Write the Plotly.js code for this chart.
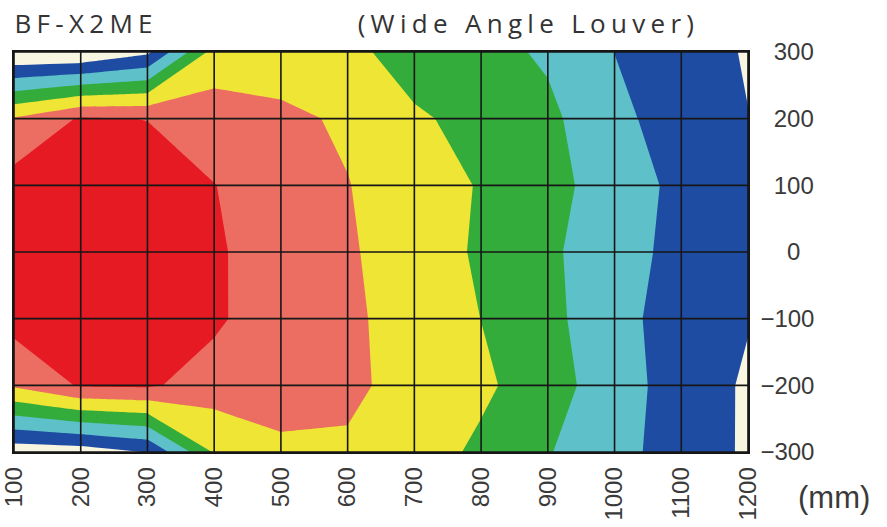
<!DOCTYPE html>
<html>
<head>
<meta charset="utf-8">
<script src="https://cdn.plot.ly/plotly-3.0.1.min.js"></script>
<style>
  html, body { margin: 0; padding: 0; background: #ffffff; }
  #chart { width: 887px; height: 527px; }
  g.annotation[data-index="0"] text, g.annotation[data-index="1"] text { letter-spacing: 5.3px; }
</style>
</head>
<body>
<div id="chart"></div>
<script>
// distance from unit (mm)
const xDist = [100, 200, 300, 400, 500, 600, 700, 800, 900, 1000, 1100, 1200];
// lateral position (mm)
const yPos = [-300, -200, -100, 0, 100, 200, 300];

// band index values (rows follow yPos)
const rowM300 = [0.4, 0.5, 1.05, 4.1, 4.85, 4.9, 4.5, 3.8, 3.05, 2.43, 1.41, 0.9];
const rowM200 = [5.15, 6.1, 6.15, 5.5, 5.35, 5.15, 4.74, 4.2, 3.43, 2.45, 1.55, 0.87];
const rowM100 = [6.36, 6.6, 6.6, 6.2, 5.25, 5.08, 4.82, 3.99, 3.3, 2.27, 1.63, 1.05];
const row0    = [6.5, 6.6, 6.6, 6.1, 5.62, 5.1, 4.57, 3.85, 3.2, 2.33, 1.76, 1.5];
const rowP100 = [6.4, 6.6, 6.5, 6.02, 5.5, 5.03, 4.5, 3.93, 3.3, 2.57, 1.73, 1.3];
const rowP200 = [5.1, 6.1, 5.98, 5.5, 5.2, 4.87, 4.15, 3.67, 3.2, 2.33, 1.39, 1.02];
const rowP300 = [0.0, 0.0, 0.8, 4.4, 4.5, 4.3, 3.49, 3.3, 2.87, 1.99, 1.5, 0.91];

const bandColors = ['#F8F6E0', '#1F4CA3', '#5EC1CA', '#34AC3B', '#EEE534', '#EC6E63', '#E61A22'];

const xTickVals = [100, 200, 300, 400, 500, 600, 700, 800, 900, 1000, 1100, 1200];
const xTickText = ['100', '200', '300', '400', '500', '600', '700', '800', '900', '1000', '1100', '1200'];
const yTickVals = [300, 200, 100, 0, -100, -200, -300];
const yTickText = ['\u2007300', '\u2007200', '\u2007100', '\u2007\u20070', '\u2212100', '\u2212200', '\u2212300'];

const titleLeft = 'BF-X2ME';
const titleRight = '(Wide Angle Louver)';
const unitLabel = '(mm)';

const zRows = [rowM300, rowM200, rowM100, row0, rowP100, rowP200, rowP300];
const colorscale = bandColors.map((c, i) => [i / (bandColors.length - 1), c]);

const trace = {
  type: 'contour',
  x: xDist,
  y: yPos,
  z: zRows,
  autocontour: false,
  contours: { start: 1, end: 6, size: 1, coloring: 'fill', showlines: false },
  line: { width: 0, smoothing: 0 },
  colorscale: colorscale,
  showscale: false,
  hoverinfo: 'skip'
};

const gridColor = '#161616';
const shapes = [];
xTickVals.forEach(v => shapes.push({
  type: 'line', xref: 'x', yref: 'y domain', x0: v, x1: v, y0: 0, y1: 1,
  line: { color: gridColor, width: 1.6 }, layer: 'above'
}));
yTickVals.forEach(v => shapes.push({
  type: 'line', xref: 'x domain', yref: 'y', x0: 0, x1: 1, y0: v, y1: v,
  line: { color: gridColor, width: 1.6 }, layer: 'above'
}));

const tickFont = { family: 'Liberation Sans, Arial, sans-serif', size: 24, color: '#3a3a3a' };

const layout = {
  width: 887, height: 527,
  margin: { l: 14, r: 139, t: 52, b: 75, pad: 0 },
  paper_bgcolor: '#ffffff', plot_bgcolor: '#ffffff',
  showlegend: false,
  xaxis: {
    range: [100, 1200], tickmode: 'array', tickvals: xTickVals, ticktext: xTickText,
    tickangle: -90, tickfont: tickFont, showgrid: false, zeroline: false,
    showline: true, mirror: true, linecolor: gridColor, linewidth: 1.6, ticks: '',
    ticklabelstandoff: 4, ticklabeloverflow: 'allow'
  },
  yaxis: {
    range: [-300, 300], side: 'right', tickmode: 'array', tickvals: yTickVals, ticktext: yTickText,
    tickfont: tickFont, showgrid: false, zeroline: false,
    showline: true, mirror: true, linecolor: gridColor, linewidth: 1.6, ticks: '',
    ticklabelstandoff: 6, ticklabeloverflow: 'allow'
  },
  shapes: shapes,
  annotations: [
    { text: titleLeft, xref: 'paper', yref: 'paper', x: 0.098, y: 1, yshift: 29, xanchor: 'center', yanchor: 'middle',
      showarrow: false, font: { family: 'Open Sans, sans-serif', size: 26, color: '#333333' } },
    { text: titleRight, xref: 'paper', yref: 'paper', x: 0.7015, y: 1, yshift: 29, xanchor: 'center', yanchor: 'middle',
      showarrow: false, font: { family: 'Open Sans, sans-serif', size: 26, color: '#333333' } },
    { text: unitLabel, xref: 'paper', yref: 'paper', x: 1, y: 0, xshift: 48, yshift: -45, xanchor: 'left', yanchor: 'middle',
      showarrow: false, font: { family: 'Liberation Sans, Arial, sans-serif', size: 31, color: '#3a3a3a' } }
  ]
};

Plotly.newPlot('chart', [trace], layout, { displayModeBar: false, staticPlot: true });
</script>
</body>
</html>
